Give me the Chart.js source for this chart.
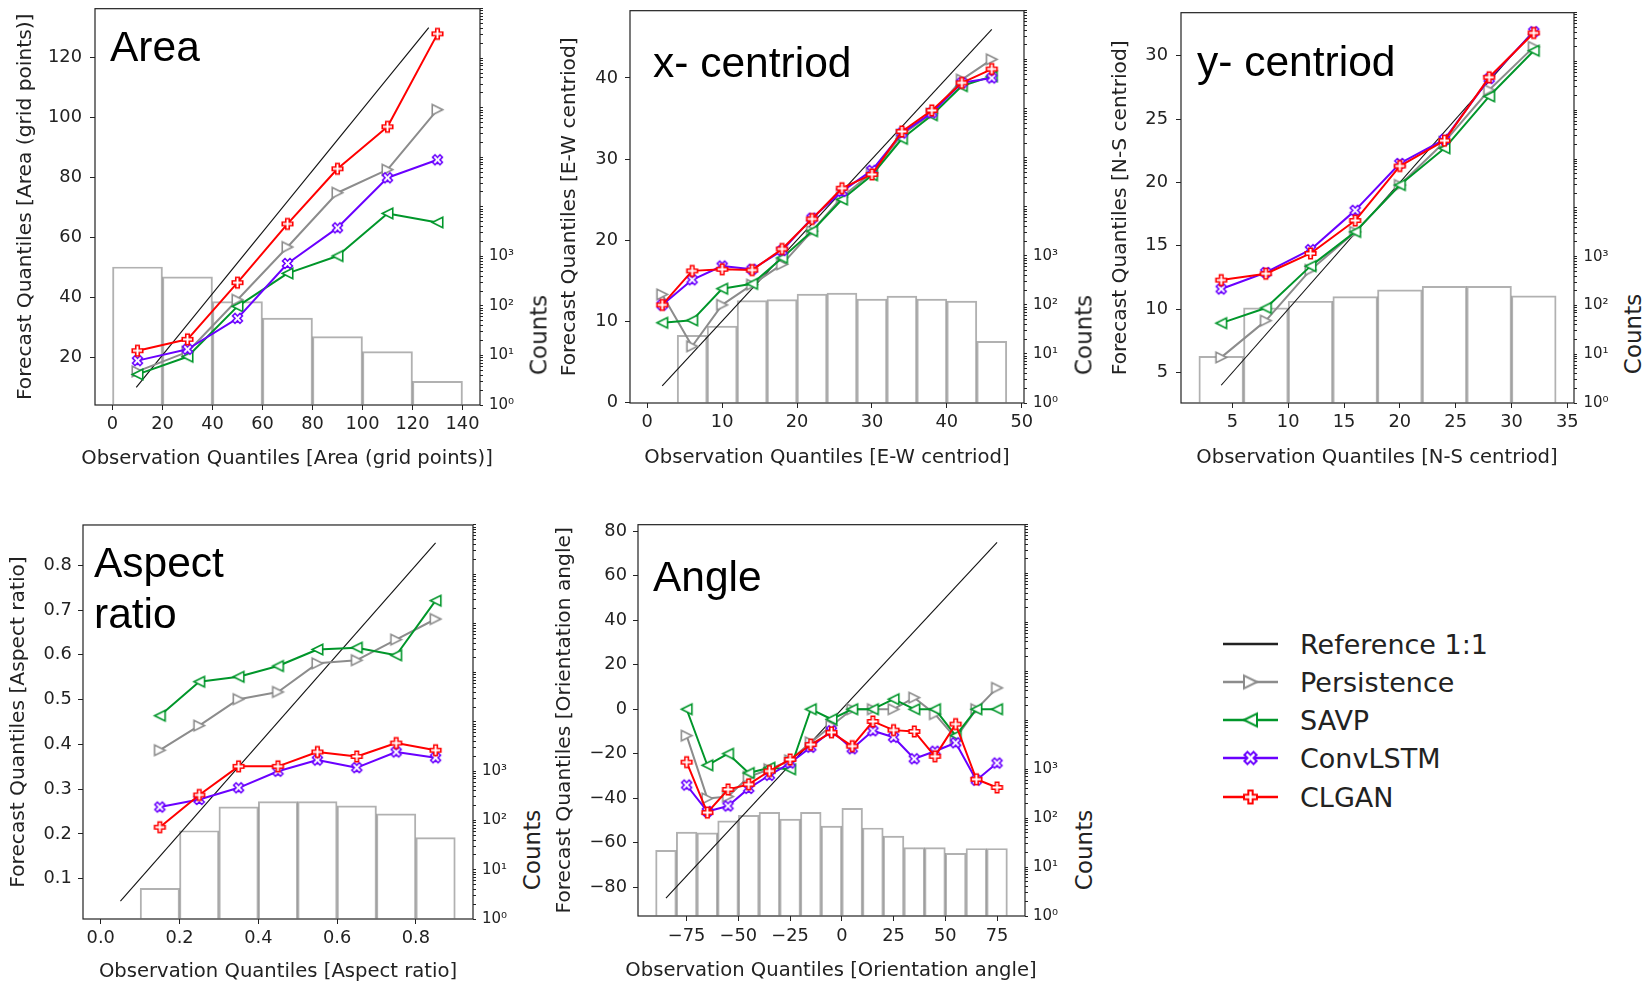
<!DOCTYPE html>
<html>
<head>
<meta charset="utf-8">
<script src="https://cdn.jsdelivr.net/npm/chart.js@4.4.0/dist/chart.umd.min.js"></script>
<style>
    body { margin: 0; width: 1645px; height: 983px; background: #fff; position: relative; overflow: hidden; }
    canvas { position: absolute; }
    .lbl { position: absolute; font-family: 'Liberation Sans', Arial, sans-serif; font-size: 42.5px; line-height: 42.5px; color: #000; white-space: nowrap; }
    .counts { position: absolute; font-family: 'DejaVu Sans', sans-serif; font-size: 23px; line-height: 23px; color: #222; white-space: nowrap; transform: translate(-50%, -50%) rotate(-90deg); }
    .xt { position: absolute; font-family: 'DejaVu Sans', sans-serif; font-size: 19.6px; line-height: 19.6px; color: #222; white-space: nowrap; transform: translate(-50%, -50%); }
    .leg { position: absolute; left: 1300px; font-family: 'DejaVu Sans', sans-serif; font-size: 27px; line-height: 27px; color: #222; white-space: nowrap; }
</style>
</head>
<body>
<canvas id="areaChart" width="525" height="490" style="left:0px;top:-10px"></canvas>
<canvas id="xcenChart" width="524" height="485" style="left:545px;top:-7px"></canvas>
<canvas id="ycenChart" width="524" height="484" style="left:1095px;top:-6px"></canvas>
<canvas id="aspChart" width="518" height="475" style="left:0px;top:508px"></canvas>
<canvas id="angChart" width="525" height="475" style="left:545px;top:508px"></canvas>
<canvas id="legendIcons" width="80" height="200" style="left:1210px;top:620px"></canvas>

<div class="lbl" style="left:110px;top:26px">Area</div>
<div class="lbl" style="left:653px;top:42px">x- centriod</div>
<div class="lbl" style="left:1197px;top:41px">y- centriod</div>
<div class="lbl" style="left:94px;top:537px;line-height:51px">Aspect<br>ratio</div>
<div class="lbl" style="left:653px;top:556px">Angle</div>

<div class="xt" style="left:287px;top:458px">Observation Quantiles [Area (grid points)]</div>
<div class="xt" style="left:827px;top:457px">Observation Quantiles [E-W centriod]</div>
<div class="xt" style="left:1377px;top:457px">Observation Quantiles [N-S centriod]</div>
<div class="xt" style="left:278px;top:971px">Observation Quantiles [Aspect ratio]</div>
<div class="xt" style="left:831px;top:970px">Observation Quantiles [Orientation angle]</div>

<div class="counts" style="left:539px;top:335px">Counts</div>
<div class="counts" style="left:1084px;top:335px">Counts</div>
<div class="counts" style="left:1633px;top:334px">Counts</div>
<div class="counts" style="left:532px;top:850px">Counts</div>
<div class="counts" style="left:1084px;top:850px">Counts</div>

<div class="leg" style="top:631px">Reference 1:1</div>
<div class="leg" style="top:669px">Persistence</div>
<div class="leg" style="top:707px">SAVP</div>
<div class="leg" style="top:745px">ConvLSTM</div>
<div class="leg" style="top:784px">CLGAN</div>

<script>
var seriesNames = ['Persistence', 'SAVP', 'ConvLSTM', 'CLGAN'];
var seriesColors = ['#8c8c8c', '#00962a', '#6a00ff', '#ff0000'];
var seriesMarkers = ['triRight', 'triLeft', 'x', 'plus'];

// Area
var areaX = [10, 30, 50, 70, 90, 110, 130];
var areaPersistence = [15.3, 21.8, 39.2, 56.8, 74.9, 82.6, 102.6];
var areaSAVP = [14.3, 20.2, 37.0, 48.0, 53.8, 68.0, 65.0];
var areaConvLSTM = [18.9, 22.7, 33.0, 51.3, 63.2, 79.9, 85.9];
var areaCLGAN = [22.2, 26.0, 44.9, 64.5, 82.9, 96.9, 127.9];
var areaRefX = [9.5, 126.5];
var areaRefY = [10, 130];
var areaBinEdges = [0, 20, 40, 60, 80, 100, 120, 140];
var areaCounts = [611, 386, 122, 57, 24, 12, 3];
var areaXTicks = [0, 20, 40, 60, 80, 100, 120, 140];
var areaYTicks = [20, 40, 60, 80, 100, 120];

// x- centroid
var xcenX = [2, 6, 10, 14, 18, 22, 26, 30, 34, 38, 42, 46];
var xcenPersistence = [13.3, 6.9, 12.0, 14.5, 17.0, 21.1, 25.3, 28.3, 33.0, 35.6, 39.8, 42.3];
var xcenSAVP = [9.8, 10.1, 14.0, 14.6, 17.8, 21.1, 25.0, 28.0, 32.5, 35.4, 39.0, 40.2];
var xcenConvLSTM = [12.0, 15.1, 16.8, 16.4, 18.7, 22.7, 26.0, 28.6, 33.2, 35.7, 39.4, 40.0];
var xcenCLGAN = [12.0, 16.2, 16.4, 16.3, 18.9, 22.6, 26.4, 28.1, 33.4, 36.0, 39.4, 41.1];
var xcenRefX = [2, 46];
var xcenRefY = [2, 46];
var xcenBinEdges = [4, 8, 12, 16, 20, 24, 28, 32, 36, 40, 44, 48];
var xcenCounts = [24, 37, 122, 128, 167, 174, 132, 151, 132, 120, 18];
var xcenXTicks = [0, 10, 20, 30, 40, 50];
var xcenYTicks = [0, 10, 20, 30, 40];

// y- centroid
var ycenX = [4, 8, 12, 16, 20, 24, 28, 32];
var ycenPersistence = [6.2, 9.1, 13.1, 16.1, 19.8, 23.2, 27.3, 30.7];
var ycenSAVP = [8.9, 10.1, 13.4, 16.1, 19.8, 22.7, 26.8, 30.4];
var ycenConvLSTM = [11.6, 12.9, 14.7, 17.8, 21.5, 23.4, 28.2, 31.9];
var ycenCLGAN = [12.3, 12.8, 14.4, 17.0, 21.3, 23.3, 28.3, 31.8];
var ycenRefX = [4, 32];
var ycenRefY = [4, 32];
var ycenBinEdges = [2, 6, 10, 14, 18, 22, 26, 30, 34];
var ycenCounts = [9, 89, 122, 152, 208, 247, 245, 157];
var ycenXTicks = [5, 10, 15, 20, 25, 30, 35];
var ycenYTicks = [5, 10, 15, 20, 25, 30];

// Aspect ratio
var aspX = [0.15, 0.25, 0.35, 0.45, 0.55, 0.65, 0.75, 0.85];
var aspPersistence = [0.387, 0.442, 0.501, 0.517, 0.581, 0.588, 0.634, 0.680];
var aspSAVP = [0.464, 0.540, 0.551, 0.575, 0.612, 0.616, 0.599, 0.721];
var aspConvLSTM = [0.260, 0.277, 0.303, 0.340, 0.365, 0.348, 0.383, 0.370];
var aspCLGAN = [0.215, 0.287, 0.351, 0.351, 0.383, 0.373, 0.403, 0.387];
var aspRefX = [0.05, 0.85];
var aspRefY = [0.05, 0.85];
var aspBinEdges = [0.1, 0.2, 0.3, 0.4, 0.5, 0.6, 0.7, 0.8, 0.9];
var aspCounts = [4.2, 62, 189, 242, 242, 198, 137, 45];
var aspXTicks = [0.0, 0.2, 0.4, 0.6, 0.8];
var aspYTicks = [0.1, 0.2, 0.3, 0.4, 0.5, 0.6, 0.7, 0.8];

// Angle
var angX = [-75, -65, -55, -45, -35, -25, -15, -5, 5, 15, 25, 35, 45, 55, 65, 75];
var angPersistence = [-11.9, -40.1, -39.3, -30.4, -27.0, -23.0, -14.9, -7.4, 0, 0, 0, 5.2, -2.2, -13.0, 0, 9.6];
var angSAVP = [0, -25.2, -20.0, -28.7, -26.3, -27.0, 0, -4.5, 0, 0, 4.5, 0, 0, -11.9, 0, 0];
var angConvLSTM = [-34.1, -46.0, -43.5, -35.6, -29.7, -24.2, -17.1, -9.7, -17.8, -9.7, -12.6, -22.3, -18.9, -15.1, -31.9, -24.2];
var angCLGAN = [-23.8, -46.5, -36.1, -33.8, -27.8, -22.6, -15.9, -10.4, -16.6, -5.5, -9.4, -10.0, -21.2, -6.7, -31.5, -35.2];
var angRefX = [-85, 75];
var angRefY = [-85, 75];
var angBinEdges = [-90, -80, -70, -60, -50, -40, -30, -20, -10, 0, 10, 20, 30, 40, 50, 60, 70, 80];
var angCounts = [22, 52, 50, 88, 114, 131, 96, 131, 69, 158, 63, 43, 25, 25, 19, 24, 24];
var angXTicks = [-75, -50, -25, 0, 25, 50, 75];
var angYTicks = [-80, -60, -40, -20, 0, 20, 40, 60, 80];

var countTickLabels = { 1: '10⁰', 10: '10¹', 100: '10²', 1000: '10³' };

var textColor = '#222';

function makeMarker(kind, color, size, lw) {
    var dim = Math.ceil(size + 6);
    var c = document.createElement('canvas');
    c.width = dim;
    c.height = dim;
    var ctx = c.getContext('2d');
    ctx.translate(dim / 2, dim / 2);
    var h = size / 2;
    ctx.beginPath();
    if (kind === 'triRight' || kind === 'triLeft') {
        var s = kind === 'triRight' ? 1 : -1;
        ctx.moveTo(s * h, 0);
        ctx.lineTo(-s * h, -h);
        ctx.lineTo(-s * h, h);
    } else {
        if (kind === 'x') ctx.rotate(Math.PI / 4);
        var pts = [[-1, -3], [1, -3], [1, -1], [3, -1], [3, 1], [1, 1], [1, 3], [-1, 3], [-1, 1], [-3, 1], [-3, -1], [-1, -1]];
        for (var i = 0; i < pts.length; i++) {
            var px = pts[i][0] * h / 3, py = pts[i][1] * h / 3;
            if (i === 0) ctx.moveTo(px, py); else ctx.lineTo(px, py);
        }
    }
    ctx.closePath();
    ctx.fillStyle = '#fff';
    ctx.fill();
    ctx.lineWidth = lw;
    ctx.strokeStyle = color;
    ctx.stroke();
    return c;
}

var markerImages = [];
for (let i = 0; i < seriesNames.length; i++) {
    markerImages.push(makeMarker(seriesMarkers[i], seriesColors[i], 10.5, 1.6));
}

var framePlugin = {
    id: 'frame',
    afterDraw: function (chart) {
        var a = chart.chartArea;
        var ctx = chart.ctx;
        ctx.save();
        ctx.strokeStyle = textColor;
        ctx.lineWidth = 1.2;
        ctx.strokeRect(a.left, a.top, a.right - a.left, a.bottom - a.top);
        ctx.restore();
    }
};

function toPoints(xs, ys) {
    var pts = [];
    for (let i = 0; i < xs.length; i++) pts.push({ x: xs[i], y: ys[i] });
    return pts;
}

function histPoints(edges, counts) {
    var pts = [];
    for (let i = 0; i < counts.length; i++) pts.push({ x: (edges[i] + edges[i + 1]) / 2, y: counts[i] });
    return pts;
}

function panel(id, p) {
    var datasets = [
        {
            type: 'bar',
            data: histPoints(p.edges, p.counts),
            yAxisID: 'y2',
            backgroundColor: 'rgba(255,255,255,0)',
            borderColor: 'rgba(60,60,60,0.4)',
            borderWidth: 1.3,
            barPercentage: 1,
            categoryPercentage: 1,
            base: 1,
            order: 10
        },
        {
            type: 'line',
            data: toPoints(p.refX, p.refY),
            yAxisID: 'y',
            borderColor: '#111',
            borderWidth: 1.1,
            pointRadius: 0,
            order: 6
        }
    ];
    for (let i = 0; i < seriesNames.length; i++) {
        datasets.push({
            type: 'line',
            label: seriesNames[i],
            data: toPoints(p.xs, p.series[i]),
            yAxisID: 'y',
            borderColor: seriesColors[i],
            borderWidth: 2,
            borderJoinStyle: 'round',
            pointStyle: markerImages[i],
            pointRadius: 5,
            order: 4 - i
        });
    }

    var tickFont = { family: 'DejaVu Sans', size: 17.8 };
    var titleFont = { family: 'DejaVu Sans', size: 20.2 };

    new Chart(document.getElementById(id).getContext('2d'), {
        type: 'line',
        data: { datasets: datasets },
        plugins: [framePlugin],
        options: {
            responsive: false,
            animation: false,
            events: [],
            layout: { padding: { top: 14, left: 0, right: 0, bottom: 0 } },
            plugins: { legend: { display: false }, tooltip: { enabled: false } },
            scales: {
                x: {
                    type: 'linear',
                    position: 'bottom',
                    offset: false,
                    min: p.xMin,
                    max: p.xMax,
                    bounds: 'data',
                    afterBuildTicks: function (s) { s.ticks = p.xTicks.map(function (v) { return { value: v }; }); },
                    afterFit: function (s) { s.height = p.bh; },
                    ticks: {
                        autoSkip: false,
                        maxRotation: 0,
                        color: textColor,
                        font: tickFont,
                        padding: p.xPad,
                        callback: p.xFmt
                    },
                    grid: { offset: false, drawOnChartArea: false, tickLength: 5, tickColor: textColor, tickWidth: 1 },
                    border: { display: false },
                    title: { display: false }
                },
                y: {
                    type: 'linear',
                    position: 'left',
                    min: p.yMin,
                    max: p.yMax,
                    bounds: 'data',
                    afterBuildTicks: function (s) { s.ticks = p.yTicks.map(function (v) { return { value: v }; }); },
                    afterFit: function (s) { s.width = p.lw; },
                    ticks: {
                        autoSkip: false,
                        color: textColor,
                        font: tickFont,
                        padding: p.yPad,
                        callback: p.yFmt
                    },
                    grid: { drawOnChartArea: false, tickLength: 5, tickColor: textColor, tickWidth: 1 },
                    border: { display: false },
                    title: { display: true, text: p.yTitle, color: textColor, font: titleFont, padding: { top: p.yTitlePad, bottom: 0 } }
                },
                y2: {
                    type: 'logarithmic',
                    position: 'right',
                    min: 1,
                    max: 1e8,
                    bounds: 'data',
                    afterBuildTicks: function (s) {
                        var t = [];
                        for (let k = 0; k < 8; k++) {
                            for (let m = 1; m < 10; m++) t.push({ value: m * Math.pow(10, k) });
                        }
                        t.push({ value: 1e8 });
                        s.ticks = t;
                    },
                    afterFit: function (s) { s.width = 45; },
                    ticks: {
                        autoSkip: false,
                        color: textColor,
                        font: { family: 'DejaVu Sans', size: 15 },
                        padding: p.y2Pad,
                        callback: function (v) { return countTickLabels[v] || ''; }
                    },
                    grid: { drawOnChartArea: false, tickLength: 3, tickColor: textColor, tickWidth: 1 },
                    border: { display: false }
                }
            }
        }
    });
}

function plainFmt(v) { return String(v); }
function oneDecimal(v) { return v.toFixed(1); }
function minusFmt(v) { return String(v).replace('-', '\u2212'); }

panel('areaChart', {
    xs: areaX, series: [areaPersistence, areaSAVP, areaConvLSTM, areaCLGAN],
    refX: areaRefX, refY: areaRefY, edges: areaBinEdges, counts: areaCounts,
    xTicks: areaXTicks, yTicks: areaYTicks, xFmt: plainFmt, yFmt: plainFmt,
    xMin: -7, xMax: 147, yMin: 4.1, yMax: 136.3,
    lw: 95, bh: 75, xPad: 3.3, yPad: 8, y2Pad: 6, yTitlePad: 13.6,
    yTitle: 'Forecast Quantiles [Area (grid points)]'
});

panel('xcenChart', {
    xs: xcenX, series: [xcenPersistence, xcenSAVP, xcenConvLSTM, xcenCLGAN],
    refX: xcenRefX, refY: xcenRefY, edges: xcenBinEdges, counts: xcenCounts,
    xTicks: xcenXTicks, yTicks: xcenYTicks, xFmt: plainFmt, yFmt: plainFmt,
    xMin: -2.3, xMax: 50.3, yMin: -0.1, yMax: 48.3,
    lw: 85, bh: 75, xPad: 3.8, yPad: 7, y2Pad: 6, yTitlePad: 12.9,
    yTitle: 'Forecast Quantiles [E-W centriod]'
});

panel('ycenChart', {
    xs: ycenX, series: [ycenPersistence, ycenSAVP, ycenConvLSTM, ycenCLGAN],
    refX: ycenRefX, refY: ycenRefY, edges: ycenBinEdges, counts: ycenCounts,
    xTicks: ycenXTicks, yTicks: ycenYTicks, xFmt: plainFmt, yFmt: plainFmt,
    xMin: 0.4, xMax: 35.6, yMin: 2.6, yMax: 33.4,
    lw: 86, bh: 75, xPad: 3.8, yPad: 8, y2Pad: 6.5, yTitlePad: 13.9,
    yTitle: 'Forecast Quantiles [N-S centriod]'
});

panel('aspChart', {
    xs: aspX, series: [aspPersistence, aspSAVP, aspConvLSTM, aspCLGAN],
    refX: aspRefX, refY: aspRefY, edges: aspBinEdges, counts: aspCounts,
    xTicks: aspXTicks, yTicks: aspYTicks, xFmt: oneDecimal, yFmt: oneDecimal,
    xMin: -0.045, xMax: 0.945, yMin: 0.01, yMax: 0.89,
    lw: 83, bh: 64, xPad: 3.3, yPad: 6.3, y2Pad: 6, yTitlePad: 6.2,
    yTitle: 'Forecast Quantiles [Aspect ratio]'
});

panel('angChart', {
    xs: angX, series: [angPersistence, angSAVP, angConvLSTM, angCLGAN],
    refX: angRefX, refY: angRefY, edges: angBinEdges, counts: angCounts,
    xTicks: angXTicks, yTicks: angYTicks, xFmt: minusFmt, yFmt: minusFmt,
    xMin: -98.5, xMax: 88.5, yMin: -93, yMax: 83,
    lw: 93, bh: 67, xPad: 4.3, yPad: 6, y2Pad: 5, yTitlePad: 7.5,
    yTitle: 'Forecast Quantiles [Orientation angle]'
});

// legend icons
var legendRows = [24, 62, 100, 138, 177];
var lctx = document.getElementById('legendIcons').getContext('2d');
function legendLine(y, color) {
    lctx.beginPath();
    lctx.moveTo(13, y);
    lctx.lineTo(68, y);
    lctx.strokeStyle = color;
    lctx.lineWidth = 2.6;
    lctx.stroke();
}
legendLine(legendRows[0], '#222');
for (let i = 0; i < seriesNames.length; i++) {
    legendLine(legendRows[i + 1], seriesColors[i]);
    var img = makeMarker(seriesMarkers[i], seriesColors[i], 13, 2);
    lctx.drawImage(img, 40.5 - img.width / 2, legendRows[i + 1] - img.height / 2);
}
</script>
</body>
</html>
